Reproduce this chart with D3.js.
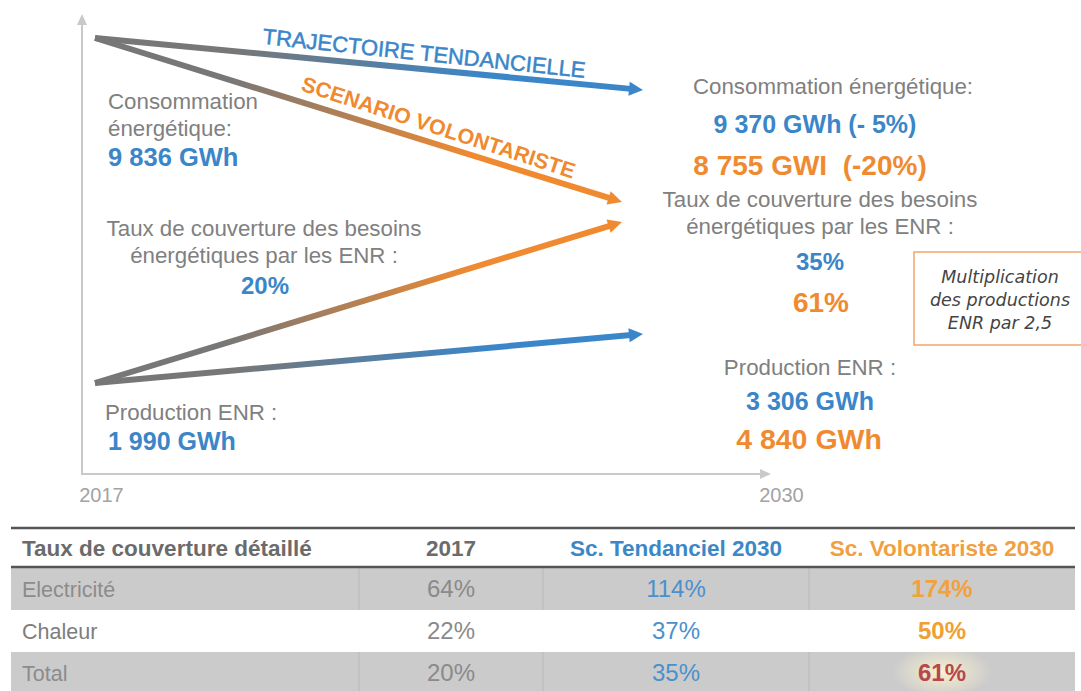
<!DOCTYPE html>
<html>
<head>
<meta charset="utf-8">
<script src="https://cdn.jsdelivr.net/npm/d3@7"></script>
<style>
  body { margin: 0; background: #fff; }
  svg { display: block; font-family: "Liberation Sans", Arial, sans-serif; }
  text { white-space: pre; }
</style>
</head>
<body>
<div id="vis"></div>
<script>
// ---- data ----
var years = ["2017", "2030"];
var scenarios = ["Tendanciel", "Volontariste"];
var consommation = [9836, 9370, 8755];     // 2017, tendanciel 2030, volontariste 2030
var consoEcart = ["- 5%", "-20%"];
var productionENR = [1990, 3306, 4840];
var couverture = [20, 35, 61];
var arrowLabels = ["TRAJECTOIRE TENDANCIELLE", "SCENARIO VOLONTARISTE"];

var tableHeaders = ["Taux de couverture détaillé", "2017", "Sc. Tendanciel 2030", "Sc. Volontariste 2030"];
var tableRows = ["Electricité", "Chaleur", "Total"];
var cov2017 = [64, 22, 20];
var covTendanciel = [114, 37, 35];
var covVolontariste = [174, 50, 61];

// ---- setup ----
var width = 1081, height = 691;
var blue = "#3a86c8", orange = "#f08a30", grey = "#777";
var textGrey = "#808080";

var fr = d3.formatLocale({decimal: ",", thousands: " ", grouping: [3], currency: ["", " €"]});
var fmt = fr.format(",.0f");
var pct = function(v) { return v + "%"; };

var svg = d3.select("#vis").append("svg")
    .attr("width", width)
    .attr("height", height);
var defs = svg.append("defs");

// scales (schematic chart, polylinear on the values)
var x = d3.scalePoint().domain(years).range([95, 643]);
var yConso = d3.scaleLinear().domain(d3.sort(consommation)).range([202, 90, 38]);
var yProd = d3.scaleLinear().domain(d3.sort(productionENR)).range([383, 334, 222]);
var xTick = d3.scalePoint().domain(years).range([101, 781]);
var scenColor = [blue, orange];
var scenInset = [0, 21];

// axes
var axisColor = "#c9c9c9";
svg.append("line").attr("x1", 82).attr("x2", 82).attr("y1", 474).attr("y2", 22)
  .attr("stroke", axisColor).attr("stroke-width", 2);
svg.append("path").attr("d", "M77,25 L82,14 L87,25 Z").attr("fill", axisColor);
svg.append("line").attr("x1", 81).attr("x2", 762).attr("y1", 474).attr("y2", 474)
  .attr("stroke", axisColor).attr("stroke-width", 2);
svg.append("path").attr("d", "M760,469 L771,474 L760,479 Z").attr("fill", axisColor);

var xAxis = svg.append("g")
  .attr("transform", "translate(0,485)")
  .call(d3.axisBottom(xTick).tickSize(0));
xAxis.select(".domain").remove();
xAxis.selectAll("text")
  .attr("font-size", 20)
  .attr("font-family", "Liberation Sans, Arial, sans-serif")
  .attr("fill", "#a3a3a3");

// arrows
function arrow(id, x0, y0, x1, y1, color) {
  var g = defs.append("linearGradient").attr("id", id)
    .attr("gradientUnits", "userSpaceOnUse")
    .attr("x1", x0).attr("y1", y0).attr("x2", x1).attr("y2", y1);
  g.append("stop").attr("offset", 0).attr("stop-color", grey);
  g.append("stop").attr("offset", 0.25).attr("stop-color", grey);
  g.append("stop").attr("offset", 0.72).attr("stop-color", color);
  g.append("stop").attr("offset", 1).attr("stop-color", color);

  var a = Math.atan2(y1 - y0, x1 - x0);
  var hl = 14, hw = 7;
  var bx = x1 - hl * Math.cos(a), by = y1 - hl * Math.sin(a);
  svg.append("line")
    .attr("x1", x0).attr("y1", y0).attr("x2", bx + 2 * Math.cos(a)).attr("y2", by + 2 * Math.sin(a))
    .attr("stroke", "url(#" + id + ")").attr("stroke-width", 6);
  var px = -Math.sin(a) * hw, py = Math.cos(a) * hw;
  svg.append("path")
    .attr("d", "M" + x1 + "," + y1 + " L" + (bx + px) + "," + (by + py) + " L" + (bx - px) + "," + (by - py) + " Z")
    .attr("fill", color);
}

scenarios.forEach(function(s, i) {
  var xe = x("2030") - scenInset[i];
  arrow("gc" + i, x("2017"), yConso(consommation[0]), xe, yConso(consommation[i + 1]), scenColor[i]);
  arrow("gp" + i, x("2017"), yProd(productionENR[0]), xe, yProd(productionENR[i + 1]), scenColor[i]);
});

// arrow labels
svg.append("text").text(arrowLabels[0])
  .attr("transform", "translate(424,55) rotate(6)")
  .attr("text-anchor", "middle").attr("dominant-baseline", "middle")
  .attr("font-size", 22).attr("fill", blue)
  .attr("stroke", blue).attr("stroke-width", 0.5);
svg.append("text").text(arrowLabels[1])
  .attr("transform", "translate(438,129) rotate(18)")
  .attr("text-anchor", "middle").attr("dominant-baseline", "middle")
  .attr("font-size", 21.5).attr("font-weight", "bold").attr("fill", orange);

// text helper
function label(t, px, py, opts) {
  opts = opts || {};
  return svg.append("text").text(t)
    .attr("x", px).attr("y", py)
    .attr("text-anchor", opts.anchor || "start")
    .attr("font-size", opts.size || 22.3)
    .attr("font-weight", opts.bold ? "bold" : "normal")
    .attr("fill", opts.color || textGrey);
}

// 2017 side
label("Consommation", 108, 109);
label("énergétique:", 108, 136);
label(fmt(consommation[0]) + " GWh", 108, 166, {bold: true, size: 25.5, color: blue});
label("Taux de couverture des besoins", 264, 236, {anchor: "middle"});
label("énergétiques par les ENR :", 264, 263, {anchor: "middle"});
label(pct(couverture[0]), 265, 294, {anchor: "middle", bold: true, size: 24, color: blue});
label("Production ENR :", 105, 420);
label(fmt(productionENR[0]) + " GWh", 108, 450, {bold: true, size: 25, color: blue});

// 2030 side
label("Consommation énergétique:", 833, 94, {anchor: "middle"});
label(fmt(consommation[1]) + " GWh (" + consoEcart[0] + ")", 815, 133, {anchor: "middle", bold: true, size: 25, color: blue});
label(fmt(consommation[2]) + " GWI  (" + consoEcart[1] + ")", 810, 175, {anchor: "middle", bold: true, size: 28, color: orange});
label("Taux de couverture des besoins", 820, 207, {anchor: "middle"});
label("énergétiques par les ENR :", 820, 234, {anchor: "middle"});
label(pct(couverture[1]), 820, 270, {anchor: "middle", bold: true, size: 24, color: blue});
label(pct(couverture[2]), 821, 312, {anchor: "middle", bold: true, size: 28, color: orange});
label("Production ENR :", 810, 375, {anchor: "middle"});
label(fmt(productionENR[1]) + " GWh", 810, 410, {anchor: "middle", bold: true, size: 25, color: blue});
label(fmt(productionENR[2]) + " GWh", 809, 449, {anchor: "middle", bold: true, size: 28.5, color: orange});

// note box
svg.append("rect").attr("x", 914).attr("y", 252).attr("width", 180).attr("height", 93)
  .attr("fill", "#fff").attr("stroke", "#f2a46a").attr("stroke-width", 1.5);
["Multiplication", "des productions", "ENR par " + d3.format(".1f")(productionENR[2] / productionENR[0] + 0.07).replace(".", ",")]
  .forEach(function(t, i) {
    svg.append("text").text(t)
      .attr("x", 1000).attr("y", 283 + i * 23)
      .attr("text-anchor", "middle")
      .attr("font-family", "'DejaVu Sans', sans-serif")
      .attr("font-style", "italic")
      .attr("font-size", 17.5)
      .attr("fill", "#444");
  });

// ---- table ----
var colEdges = [11, 359, 543, 809, 1075];
var colCenters = [22, 451, 676, 942];
var rowY = d3.scaleBand().domain(tableRows).range([568, 694]);

var table = svg.append("g");
table.selectAll("rect.row")
  .data(tableRows.filter(function(d, i) { return i !== 1; }))
  .enter().append("rect")
  .attr("x", colEdges[0]).attr("width", colEdges[4] - colEdges[0])
  .attr("y", function(d) { return rowY(d); })
  .attr("height", rowY.bandwidth())
  .attr("fill", "#cbcbcb");

// column separators in grey rows
[1, 2, 3].forEach(function(c) {
  [0, 2].forEach(function(r) {
    table.append("line")
      .attr("x1", colEdges[c]).attr("x2", colEdges[c])
      .attr("y1", rowY(tableRows[r])).attr("y2", rowY(tableRows[r]) + rowY.bandwidth())
      .attr("stroke", "#b9b9b9").attr("stroke-width", 1);
  });
});

table.append("line").attr("x1", colEdges[0]).attr("x2", colEdges[4]).attr("y1", 528).attr("y2", 528)
  .attr("stroke", "#555").attr("stroke-width", 2.5);
table.append("line").attr("x1", colEdges[0]).attr("x2", colEdges[4]).attr("y1", 567).attr("y2", 567)
  .attr("stroke", "#555").attr("stroke-width", 2.5);

var headColors = ["#6b6b6b", "#6b6b6b", "#3c88c6", "#f0a040"];
tableHeaders.forEach(function(h, i) {
  table.append("text").text(h)
    .attr("x", colCenters[i]).attr("y", 556)
    .attr("text-anchor", i === 0 ? "start" : "middle")
    .attr("font-size", 22.5).attr("font-weight", "bold")
    .attr("fill", headColors[i]);
});

// glow behind 61%
var glow = defs.append("radialGradient").attr("id", "glow");
glow.append("stop").attr("offset", 0).attr("stop-color", "#fbf2cf").attr("stop-opacity", 0.95);
glow.append("stop").attr("offset", 1).attr("stop-color", "#fbf2cf").attr("stop-opacity", 0);
table.append("ellipse").attr("cx", colCenters[3]).attr("cy", rowY("Total") + 20)
  .attr("rx", 50).attr("ry", 26).attr("fill", "url(#glow)");

var volColors = ["#f2a23a", "#f0a030", "#b8474a"];
tableRows.forEach(function(r, i) {
  var yb = rowY(r) + rowY.bandwidth() / 2 + 8;
  var lc = i === 1 ? "#7d7d7d" : "#8c8c8c";
  table.append("text").text(r).attr("x", colCenters[0]).attr("y", yb)
    .attr("font-size", 21.5).attr("fill", lc);
  table.append("text").text(pct(cov2017[i])).attr("x", colCenters[1]).attr("y", yb)
    .attr("text-anchor", "middle").attr("font-size", 24).attr("fill", "#8a8a8a");
  table.append("text").text(pct(covTendanciel[i])).attr("x", colCenters[2]).attr("y", yb)
    .attr("text-anchor", "middle").attr("font-size", 24).attr("fill", "#4a90cc");
  table.append("text").text(pct(covVolontariste[i])).attr("x", colCenters[3]).attr("y", yb)
    .attr("text-anchor", "middle").attr("font-size", 24).attr("font-weight", "bold")
    .attr("fill", volColors[i]);
});
</script>
</body>
</html>
